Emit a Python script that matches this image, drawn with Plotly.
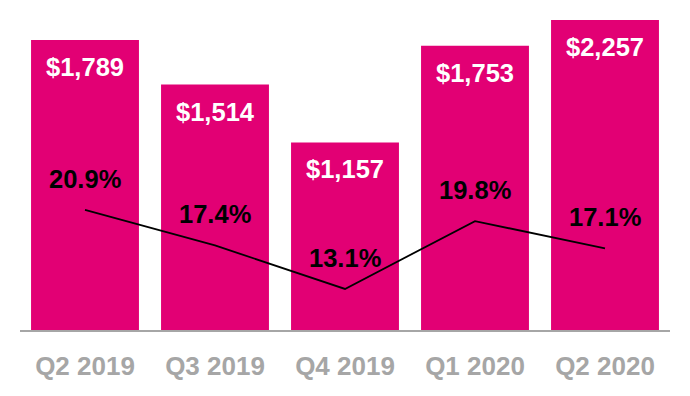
import plotly.graph_objects as go

quarters = ["Q2 2019", "Q3 2019", "Q4 2019", "Q1 2020", "Q2 2020"]
revenue = [1789, 1514, 1157, 1753, 2257]
margin_pct = [20.9, 17.4, 13.1, 19.8, 17.1]

MAGENTA = "#E20074"
GRAY = "#A6A6A6"
FONT = "Liberation Sans, Arial, sans-serif"
Y_MAX = 1912
Y2_RANGE = [9.05, 39.65]

fig = go.Figure()
fig.add_trace(go.Bar(
    x=quarters, y=revenue, marker=dict(color=MAGENTA, line=dict(width=0)),
    hoverinfo="skip", showlegend=False,
))
fig.add_trace(go.Scatter(
    x=quarters, y=margin_pct, mode="lines", yaxis="y2",
    line=dict(color="black", width=1.8), showlegend=False, hoverinfo="skip",
))

annotations = []
for q, v in zip(quarters, revenue):
    annotations.append(dict(
        x=q, y=min(v, Y_MAX), xref="x", yref="y", text=f"<b>${v:,}</b>",
        showarrow=False, yshift=-27, yanchor="middle",
        font=dict(family=FONT, size=25.5, color="white"),
    ))
for q, p in zip(quarters, margin_pct):
    annotations.append(dict(
        x=q, y=p, xref="x", yref="y2", text=f"<b>{p:.1f}%</b>",
        showarrow=False, yshift=31, yanchor="middle",
        font=dict(family=FONT, size=25.5, color="black"),
    ))

fig.update_layout(
    width=690, height=396,
    margin=dict(l=20, r=20, t=20, b=66),
    paper_bgcolor="white", plot_bgcolor="white",
    bargap=0.17,
    xaxis=dict(
        showline=True, linecolor=GRAY, linewidth=2, ticks="outside",
        ticklen=12, tickcolor="rgba(0,0,0,0)",
        tickfont=dict(family=FONT, size=26, color=GRAY),
        tickprefix="<b>", ticksuffix="</b>", showgrid=False, zeroline=False,
    ),
    yaxis=dict(range=[0, Y_MAX], visible=False, showgrid=False, zeroline=False),
    yaxis2=dict(range=Y2_RANGE, overlaying="y", visible=False, showgrid=False, zeroline=False),
    annotations=annotations,
)

fig.write_html("out.html")
